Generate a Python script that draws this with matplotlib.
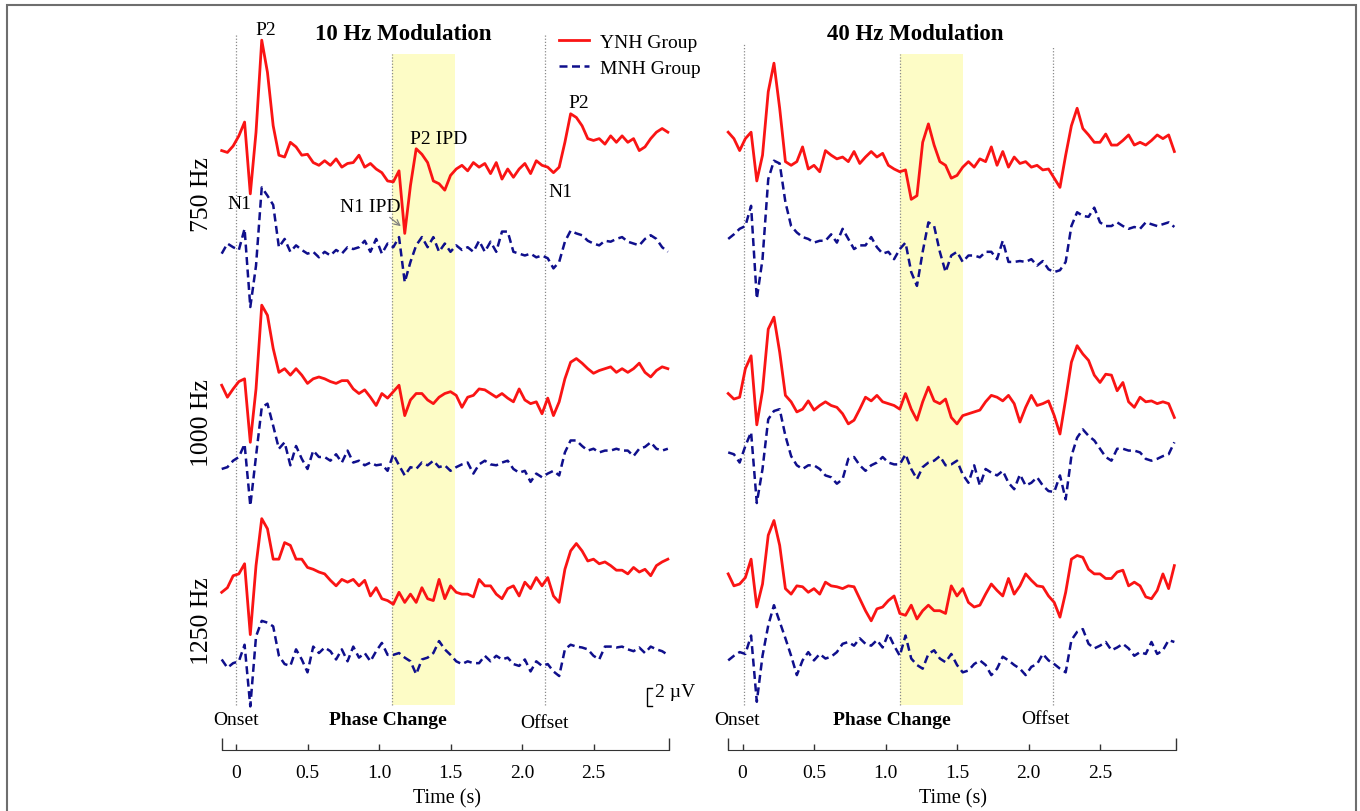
import numpy as np
import matplotlib
matplotlib.use("Agg")
import matplotlib.pyplot as plt
from matplotlib.lines import Line2D
from matplotlib.patches import Rectangle

plt.rcParams['font.family'] = ['Liberation Serif', 'DejaVu Serif']

W, H = 1360, 812

# grand-average traces, microvolts, one sample per 40 ms
t = np.round(np.arange(-0.1, 3.03, 0.04), 2)

# ---- 10 Hz modulation (left panel) ----
L750_YNH = [0, -0.2, 0.5, 1.6, 3.1, -4.7, 2.0, 12.0, 8.5, 2.7,
            -0.5, -0.7, 0.9, 0.4, -0.5, -0.4, -1.3, -1.6, -1.1, -1.6,
            -0.9, -1.8, -1.4, -1.3, -0.5, -1.8, -1.4, -2.0, -2.4, -3.3,
            -3.4, -2.2, -9.0, -3.8, 0.2, -0.4, -1.3, -3.3, -3.6, -4.3,
            -2.7, -2.0, -1.6, -2.2, -1.3, -1.8, -1.4, -2.5, -1.3, -3.1,
            -2.0, -2.9, -2.0, -1.4, -2.5, -1.1, -1.6, -1.8, -2.4, -1.8,
            0.9, 4.0, 3.6, 2.7, 1.3, 1.1, 1.3, 0.7, 1.6, 0.9,
            1.6, 0.9, 1.3, 0.0, 0.4, 1.3, 2.0, 2.4, 2.0]
L750_MNH = [0, 1.1, 0.7, 0.4, 2.7, -5.8, -1.3, 7.2, 6.3, 5.3,
            0.7, 1.6, 0.2, 0.9, 0.4, 0, 0.2, -0.4, 0.2, -0.2,
            0.4, 0, 0.7, 0.5, 0.7, 1.4, 0.2, 1.6, 0, 1.1,
            0.7, 1.8, -3.1, -0.9, 0.9, 1.8, 0.7, 1.8, 0.2, 1.1,
            0.2, 0.9, 0.4, 0.7, 0.2, 1.4, 0.2, 1.3, 0.2, 2.4,
            2.4, 0.2, 0, -0.2, 0, -0.4, -0.2, -0.5, -1.6, -0.9,
            1.3, 2.5, 2.2, 2.0, 1.4, 1.1, 0.9, 1.4, 1.3, 1.6,
            1.8, 1.3, 1.1, 0.9, 1.6, 2.0, 1.6, 0.7, 0.2]
L1000_YNH = [0, -1.3, -0.4, 0.4, 0.7, -6.2, -0.4, 8.7, 7.6, 4.0,
             1.4, 1.8, 1.1, 1.8, 1.1, 0.2, 0.7, 0.9, 0.7, 0.4,
             0.2, 0.5, 0.5, -0.4, -0.9, -0.5, -1.3, -2.2, -0.9, -1.4,
             -0.7, 0, -3.3, -1.6, -0.9, -0.9, -1.6, -2.0, -1.3, -0.9,
             -0.7, -1.1, -2.4, -1.3, -1.1, -0.4, -0.5, -0.9, -1.3, -0.9,
             -1.4, -1.8, -0.4, -1.6, -2.0, -1.8, -3.1, -1.4, -3.3, -1.8,
             0.7, 2.5, 2.9, 2.4, 1.8, 1.3, 1.6, 1.8, 2.0, 1.4,
             1.8, 1.4, 1.8, 2.4, 1.4, 0.9, 1.6, 2.0, 1.8]
L1000_MNH = [0, 0.2, 0.9, 1.3, 2.7, -4.0, 1.4, 6.7, 7.1, 4.7,
             2.2, 2.9, 0.4, 2.5, 1.1, 0, 2.0, 1.3, 1.3, 0.9,
             1.6, 0.7, 2.0, 0.7, 0.9, 0.4, 0.7, 0.4, 0.5, -0.2,
             1.6, 0.4, -0.7, 0.2, 0, 0.7, 0.4, 0.9, 0.2, 0.4,
             -0.2, 0.2, 0.5, 0.7, -0.5, 0.5, 0.9, 0.5, 0.4, 0.7,
             0.9, 0, -0.4, -0.2, -1.4, -0.5, -0.9, -0.5, -0.2, -0.7,
             1.8, 3.1, 3.1, 2.5, 2.0, 2.2, 1.8, 2.0, 2.0, 2.2,
             2.0, 2.0, 1.4, 2.2, 2.4, 2.9, 2.2, 2.0, 2.2]
L1250_YNH = [0, 0.5, 1.8, 2.0, 3.1, -4.6, 2.9, 8.0, 6.9, 3.6,
             3.6, 5.4, 5.1, 3.6, 3.6, 2.7, 2.5, 2.2, 2.0, 1.3,
             0.7, 1.4, 1.1, 1.4, 0.7, 1.3, -0.4, 0.5, -0.7, -0.9,
             -1.3, 0, -1.1, -0.2, -1.1, 0.5, -0.7, -0.9, 1.4, -0.7,
             0.7, 0, -0.2, -0.2, -0.5, 1.4, 0.7, 0.7, -0.2, -0.7,
             0.4, 0.7, -0.4, 1.1, 0.4, 1.6, 0.7, 1.6, -0.4, -1.1,
             2.5, 4.5, 5.3, 4.5, 3.4, 3.6, 3.1, 3.3, 2.9, 2.4,
             2.4, 2.0, 2.7, 2.2, 2.5, 1.8, 2.9, 3.3, 3.6]
L1250_MNH = [0, -0.9, -0.4, -0.2, 1.6, -5.1, 2.5, 4.2, 4.0, 3.6,
             0.4, -0.5, -0.7, 1.1, 0, -1.4, 1.4, 0.7, 1.3, 0.9,
             0, 1.1, -0.2, 1.4, 0.2, 0.7, -0.2, 0.9, 1.8, 0.5,
             0.5, 0.7, 0.2, -0.2, -1.6, 0, 0.2, 0.7, 2.0, 1.1,
             0.5, -0.2, -0.5, -0.2, -0.4, -0.4, 0.4, -0.2, 0.4, 0,
             0.2, -0.5, -0.7, 0, -1.3, -0.2, -0.7, -0.5, -1.3, -1.8,
             1.1, 1.6, 1.4, 1.3, 1.1, 0.4, 0, 1.4, 1.4, 1.3,
             1.4, 1.1, 0.9, 1.3, 0.7, 1.4, 1.1, 0.9, 0.5]

# ---- 40 Hz modulation (right panel) ----
R750_YNH = [0.7, 0, -1.3, 0, 0.7, -4.6, -1.8, 5.1, 8.2, 3.3,
            -2.5, -2.9, -2.5, -0.9, -3.3, -2.9, -3.6, -1.3, -1.8, -2.2,
            -2.0, -2.5, -1.4, -2.7, -2.0, -1.4, -2.0, -1.6, -2.9, -3.3,
            -3.6, -3.4, -6.6, -6.2, -0.4, 1.6, -0.7, -2.5, -2.9, -4.3,
            -4.0, -3.1, -2.5, -3.1, -2.2, -2.5, -0.9, -2.9, -1.4, -3.1,
            -2.0, -2.7, -2.5, -3.1, -2.9, -3.4, -3.3, -4.3, -5.3, -1.8,
            1.4, 3.3, 1.1, 0.4, -0.4, -0.4, 0.5, -0.7, -0.7, -0.2,
            0.4, -0.7, -0.4, -0.7, -0.2, 0.4, 0, 0.4, -1.4]
R750_MNH = [0, 0.5, 1.1, 1.4, 3.6, -6.5, -2.2, 6.5, 8.5, 8.2,
            4.0, 1.4, 0.7, 0.2, 0, -0.4, -0.2, -0.2, 0.5, -0.4,
            1.1, 0, -1.1, -0.7, -0.7, 0.2, -0.9, -1.6, -1.4, -2.2,
            -1.1, -0.4, -3.6, -5.1, -1.4, 1.8, 1.4, -1.4, -3.6, -1.8,
            -1.4, -2.5, -1.8, -1.8, -2.0, -1.4, -1.4, -2.2, -0.2, -2.5,
            -2.5, -2.4, -2.5, -2.2, -2.9, -2.4, -3.3, -3.6, -3.4, -2.5,
            1.4, 2.9, 2.5, 2.4, 3.4, 1.8, 1.4, 1.4, 1.8, 1.4,
            1.1, 1.3, 1.1, 1.8, 1.6, 1.4, 1.6, 1.8, 1.3]
R1000_YNH = [0.4, -0.2, 0, 3.1, 4.5, -3.0, 0.7, 7.4, 8.7, 4.9,
             0.2, -0.5, -1.6, -1.3, -0.4, -1.4, -0.9, -0.5, -0.9, -1.1,
             -1.8, -2.9, -2.5, -1.3, 0, -0.4, 0.2, -0.5, -0.7, -0.9,
             -1.3, 0.4, -1.3, -2.5, -0.5, 1.1, -0.4, -0.7, -0.2, -2.2,
             -2.9, -2.0, -1.8, -1.6, -1.4, -0.5, 0.2, 0, -0.4, 0.2,
             -0.7, -2.7, -1.1, 0.2, -0.9, -0.7, -0.4, -2.0, -4.0, -0.2,
             3.8, 5.6, 4.7, 4.0, 2.4, 1.6, 2.5, 2.4, 0.7, 1.6,
             -0.5, -1.1, 0, -0.5, -0.4, -0.7, -0.5, -0.7, -2.2]
R1000_MNH = [0, -0.2, -1.1, 0.7, 2.2, -5.5, -1.8, 3.6, 4.5, 4.7,
             1.8, -0.4, -1.4, -1.8, -1.4, -1.4, -1.8, -2.5, -2.7, -3.4,
             -2.9, -0.7, -0.5, -1.4, -2.0, -1.4, -1.1, -0.5, -1.1, -1.3,
             -1.3, -0.2, -1.8, -2.9, -1.6, -1.1, -0.9, -0.4, -1.4, -1.3,
             -0.9, -2.4, -3.3, -1.4, -3.6, -1.8, -2.2, -2.5, -2.0, -3.3,
             -4.0, -2.4, -3.6, -3.3, -2.7, -3.6, -4.2, -4.3, -2.5, -5.1,
             -0.4, 1.6, 2.5, 1.8, 1.3, 0.4, -0.5, -0.9, 0.4, 0.4,
             0.2, 0.2, 0, -0.7, -0.9, -0.7, -0.4, -0.2, 1.1]
R1250_YNH = [0, -1.3, -1.1, -0.4, 1.6, -3.6, -1.1, 4.2, 5.8, 3.1,
             -1.6, -2.2, -1.3, -1.4, -2.0, -1.6, -2.2, -0.9, -1.3, -1.4,
             -1.6, -1.3, -1.4, -2.7, -4.0, -5.1, -3.8, -3.6, -2.9, -2.4,
             -4.3, -4.5, -3.4, -4.9, -4.0, -3.4, -4.0, -4.0, -4.3, -1.3,
             -2.4, -1.6, -3.1, -3.6, -3.4, -2.2, -1.1, -1.8, -2.4, -0.5,
             -2.2, -1.3, 0, -0.7, -1.3, -1.4, -2.4, -3.1, -4.7, -2.0,
             1.6, 2.0, 1.8, 0.5, 0, 0, -0.5, -0.5, 0.2, 0.4,
             -1.3, -0.9, -1.3, -2.5, -2.7, -1.8, 0, -1.6, 0.9]
R1250_MNH = [0, 0.5, 0.9, 0.7, 2.7, -4.5, 0.5, 3.8, 6.0, 4.2,
             2.4, 0.5, -1.6, 0, 0.9, 0, 0.7, 0.2, 0.4, 0.9,
             1.8, 2.0, 1.6, 2.4, 1.8, 1.6, 2.2, 1.4, 2.9, 1.6,
             0.5, 2.7, 0.2, -0.5, -0.9, 0.7, 1.1, 0.2, -0.2, 0.7,
             -0.5, -1.3, -1.1, -0.4, 0, -0.5, -1.6, -0.9, 0.4, 0,
             -0.5, -0.9, -1.6, -0.7, -0.4, 0.7, 0, -0.4, -0.9, -1.3,
             2.2, 3.1, 3.4, 1.8, 1.3, 1.6, 2.0, 1.1, 1.4, 1.8,
             1.3, 0.5, 0.9, 0.7, 2.0, 0.7, 1.1, 2.2, 2.0]

rows = ["750 Hz", "1000 Hz", "1250 Hz"]
groups = ["YNH Group", "MNH Group"]
tick_vals = [0, 0.5, 1.0, 1.5, 2.0, 2.5]
tick_labels = ["0", "0.5", "1.0", "1.5", "2.0", "2.5"]

RED = "#fa1414"
BLUE = "#0f0f8c"
YELLOW = "#fdfcc6"
DASH = (0, (3.2, 1.8))

# layout: 143 px per second, 9.2 px per microvolt
PX_S = 143.0
PX_UV = 9.2


def fx(px):
    return px / W


def fy(py):
    return 1 - py / H


panels = [
    dict(title="10 Hz Modulation", x0=236.0, title_x=403,
         traces=[L750_YNH, L750_MNH, L1000_YNH, L1000_MNH, L1250_YNH, L1250_MNH],
         offsets=[0, -11.2, -25.5, -34.6, -48.0, -55.3],
         onset=(0.0, 12.7), phase=(1.09, 1.53, 10.5), offset=(2.16, 12.7),
         lab=[(0.0, -61.8), (1.063, -61.8), (2.154, -62.1)]),
    dict(title="40 Hz Modulation", x0=742.5, title_x=915.5,
         traces=[R750_YNH, R750_MNH, R1000_YNH, R1000_MNH, R1250_YNH, R1250_MNH],
         offsets=[1.3, -9.6, -26.8, -32.8, -46.0, -55.4],
         onset=(0.01, 11.6), phase=(1.10, 1.545, 10.5), offset=(2.17, 11.4),
         lab=[(-0.035, -61.8), (1.043, -61.8), (2.121, -61.7)]),
]

fig = plt.figure(figsize=(13.6, 8.12), dpi=100)
BOTTOM = -60.3
axes = []
for p in panels:
    left = p["x0"] - 0.15 * PX_S
    ax = fig.add_axes([fx(left), fy(712), 3.25 * PX_S / W, 692 / H])
    ax.set_xlim(-0.15, 3.1)
    ax.set_ylim(-60.9, 14.3)
    ax.patch.set_alpha(0)

    # shaded phase-change window and event markers
    a, b, top = p["phase"]
    ax.fill_between([a, b], BOTTOM, top, color=YELLOW, lw=0, zorder=0)
    for xv, yt in [p["onset"], (a, top), p["offset"]]:
        ax.vlines(xv, BOTTOM, yt, colors="#8a8a8a", linestyles=(0, (1, 1.5)), lw=0.9, zorder=1)

    for i, (vals, off) in enumerate(zip(p["traces"], p["offsets"])):
        y = np.array(vals) + off
        if i % 2 == 0:
            ax.plot(t, y, color=RED, lw=2.0, zorder=3)
        else:
            ax.plot(t, y, color=BLUE, lw=1.8, ls=DASH, zorder=3)

    for txt, (xv, yv) in zip(["Onset", "Phase Change", "Offset"], p["lab"]):
        ax.text(xv, yv, txt, ha="center", va="center", fontsize=14,
                fontweight="bold" if txt == "Phase Change" else "normal")

    # time axis drawn below the traces
    for s in ["left", "right", "top"]:
        ax.spines[s].set_visible(False)
    ax.spines["bottom"].set_position(("outward", 28.1))
    ax.spines["bottom"].set_bounds(-0.1, 3.03)
    ax.spines["bottom"].set_color("#333333")
    ax.set_yticks([])
    ax.set_xticks(tick_vals)
    ax.set_xticklabels(tick_labels)
    ax.set_xticks([-0.1, 3.03], minor=True)
    ax.tick_params(axis="x", which="major", direction="in", length=4, width=1,
                   color="#333333", pad=10, labelsize=14)
    ax.tick_params(axis="x", which="minor", direction="in", length=8.6, width=1,
                   color="#333333")
    ax.set_xlabel("Time (s)", fontsize=14.5, labelpad=5)

    fig.text(fx(p["title_x"]), fy(35), p["title"], ha="center", va="center",
             fontsize=16.5, fontweight="bold")
    axes.append(ax)

# peak labels on the 10 Hz / 750 Hz YNH trace
axL = axes[0]
for txt, xv, yv in [("P2", 0.206, 13.2), ("N1", 0.024, -5.7), ("N1 IPD", 0.937, -6.1),
                    ("P2 IPD", 1.42, 1.27), ("P2", 2.40, 5.2), ("N1", 2.27, -4.4)]:
    axL.text(xv, yv, txt, ha="center", va="center", fontsize=14)
axL.annotate("", xy=(1.168, -8.4), xytext=(1.06, -7.07),
             arrowprops=dict(arrowstyle="->", color="#808080", lw=0.9))

# 2 microvolt scale bar
sb_x, sb_top = 2.872, -58.4
axL.plot([sb_x + 0.035, sb_x, sb_x, sb_x + 0.035], [sb_top, sb_top, sb_top - 2, sb_top - 2],
         color="black", lw=1.0, clip_on=False)
axL.text(2.93, -58.8, "2 \u00b5V", ha="left", va="center", fontsize=14)

# frequency row labels
for lab, yc in zip(rows, [195, 423, 621]):
    fig.text(fx(202), fy(yc), lab, rotation=90, ha="center", va="center", fontsize=18.5)

handles = [Line2D([], [], color=RED, lw=2.0),
           Line2D([], [], color=BLUE, lw=1.8, ls=DASH)]
fig.legend(handles, groups, loc="upper left", bbox_to_anchor=(fx(559), fy(34)),
           frameon=False, fontsize=14, handlelength=1.55, handletextpad=0.55,
           borderpad=0, borderaxespad=0, labelspacing=0.45)

fig.patches.append(Rectangle((fx(7), -0.02), fx(1356) - fx(7), fy(6) + 0.02,
                             transform=fig.transFigure, fill=False,
                             ec="#6e6e6e", lw=1.5))

fig.savefig("out.png", dpi=100)
